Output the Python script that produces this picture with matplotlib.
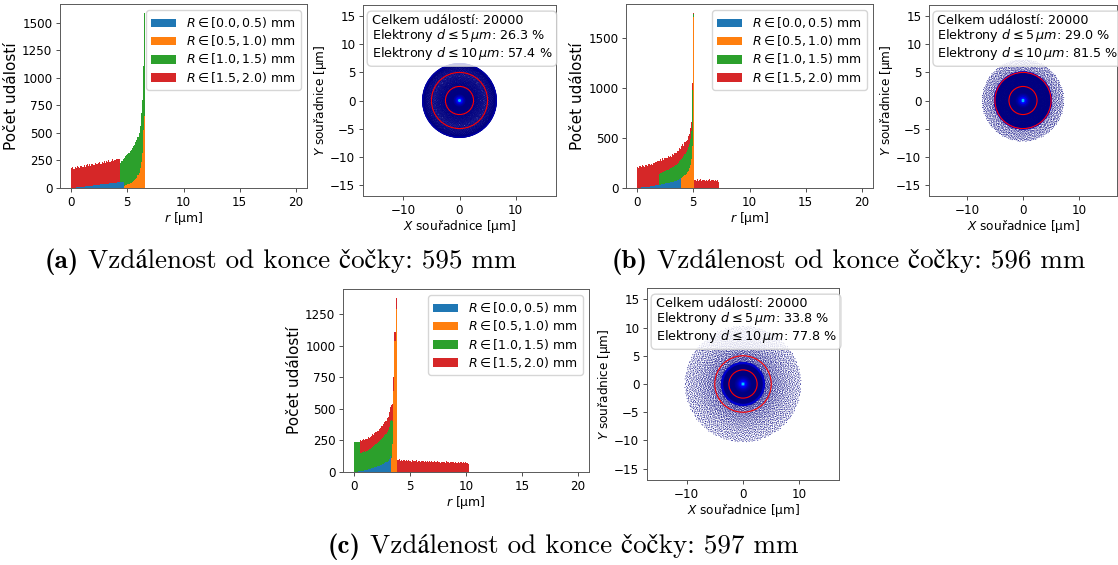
import numpy as np
import matplotlib
matplotlib.use("Agg")
import matplotlib.pyplot as plt
from matplotlib.colors import Normalize

W, H = 1118, 565

# histogram binning of the radial distance r [um]
BIN_WIDTH = 0.1
edges = np.linspace(0, 20, 201)
centers = 0.5 * (edges[:-1] + edges[1:])

group_labels = [r"$R \in [0.0, 0.5)$ mm", r"$R \in [0.5, 1.0)$ mm",
                r"$R \in [1.0, 1.5)$ mm", r"$R \in [1.5, 2.0)$ mm"]
group_colors = ["tab:blue", "tab:orange", "tab:green", "tab:red"]

# counts per 0.1 um bin, given as (index of first bin, counts)
# -- 595 mm --
blue_595 = (0, [1, 2, 3, 3, 5, 6, 7, 8, 10, 11, 12, 13, 15, 16, 17, 18, 20, 20,
                22, 23, 24, 26, 27, 28, 29, 30, 32, 33, 34, 35, 37, 38, 39, 40,
                41, 42, 44, 45, 46, 47, 48, 50, 51, 52, 53, 55, 56])
orange_595 = (47, [18, 24, 29, 33, 38, 44, 49, 55, 62, 70, 80, 95, 115, 140,
                   180, 240, 320, 530, 650])
green_595 = (43, [175, 188, 192, 206, 250, 262, 268, 280, 284, 290, 300, 306,
                  318, 322, 336, 340, 352, 360, 385, 440, 480, 580, 940])
red_595 = (0, [178, 186, 172, 190, 181, 195, 184, 176, 192, 188, 183, 198, 179,
               190, 201, 186, 194, 182, 199, 190, 185, 203, 192, 187, 198, 206,
               189, 200, 195, 210, 193, 204, 198, 212, 196, 207, 215, 200, 211,
               205, 218, 209, 214])

# -- 596 mm --
blue_596 = (0, [1, 2, 3, 5, 6, 7, 8, 9, 11, 12, 13, 15, 17, 19, 21, 23, 25, 27,
                30, 32, 34, 36, 38, 40, 42, 45, 47, 50, 52, 55, 58, 61, 64, 68,
                72, 77, 83, 90, 98])
orange_596 = (39, [100, 108, 118, 128, 140, 155, 172, 195, 228, 285, 420, 1700])
green_596 = (19, [112, 120, 115, 124, 121, 128, 126, 133, 130, 136, 140, 137,
                  145, 149, 152, 158, 163, 168, 175, 182, 188, 195, 201, 208,
                  216, 225, 236, 248, 262, 285, 560, 32])
red_596 = (0, [208, 196, 215, 204, 221, 210, 199, 224, 215, 208, 229, 218, 226,
               212, 233, 224, 238, 228, 244,
               128, 140, 122, 135, 118, 131, 126, 115, 137, 121, 129, 112, 134,
               119, 125, 117, 130, 122, 136, 110, 128, 131, 104, 118, 109, 100,
               112, 96, 105, 90, 67, 15,
               82, 74, 88, 70, 79, 85, 68, 77, 83, 72, 80, 66, 78, 86, 71, 75,
               81, 69, 77, 73, 80, 64])

# -- 597 mm --
blue_597 = (0, [1, 2, 3, 4, 4, 5, 7, 9, 11, 13, 15, 17, 20, 23, 25, 28, 31, 34,
                38, 41, 44, 47, 51, 55, 58, 62, 66, 71, 76, 82, 90, 105, 130])
orange_597 = (33, [110, 220, 640, 1040, 1290])
green_597 = (0, [240, 234, 238, 230, 236,
                 144, 140, 147, 145, 150, 147, 152, 155, 160, 158, 165, 170,
                 168, 176, 184, 182, 190, 196, 200, 205, 210, 214, 220, 228,
                 236, 245, 255, 270, 300, 180])
red_597 = (5, [108, 100, 95, 102, 88, 97, 92, 99, 86, 94, 90, 98, 88, 95,
               92, 100, 91, 97, 94, 103, 96, 99, 105, 98, 110, 104, 115, 116,
               120, 140, 110, 70, 90,
               98, 92, 101, 88, 95, 90, 97, 84, 93, 89, 96, 86, 91, 83, 94, 88,
               85, 92, 80, 89, 86, 82, 90, 84, 79, 88, 83, 86, 78, 85, 81, 87,
               77, 84, 80, 76, 86, 79, 82, 75, 83, 78, 80, 74, 85, 77, 79, 73,
               82, 76, 78, 72, 80, 75, 71, 79, 74, 77, 70, 76, 73, 78, 69, 74,
               60])

# y ticks of the three histograms
yticks_595 = [0, 250, 500, 750, 1000, 1250, 1500]
yticks_596 = [0, 500, 1000, 1500]
yticks_597 = [0, 250, 500, 750, 1000, 1250]

# summary numbers written in the info box: events, % within d<=5um, % within d<=10um
summary_595 = (20000, 26.3, 57.4)
summary_596 = (20000, 29.0, 81.5)
summary_597 = (20000, 33.8, 77.8)

tags = ["a", "b", "c"]
distances_mm = [595, 596, 597]


def binned(spec):
    start, vals = spec
    out = np.zeros(len(centers))
    out[start:start + len(vals)] = vals
    return out


def px_axes(fig, left, top, right, bottom):
    return fig.add_axes([left / W, 1 - bottom / H, (right - left) / W, (bottom - top) / H])


def radical_inverse(k, base):
    k = k.copy()
    out = np.zeros(len(k))
    f = 1.0
    while np.any(k > 0):
        f /= base
        out += f * (k % base)
        k //= base
    return out


def spot_points(total):
    """Spread the binned counts evenly over their annuli (Halton 2/3 layout)."""
    xs, ys, cs = [], [], []
    offset = 0
    for i, n in enumerate(total.astype(int)):
        if n == 0:
            continue
        k = np.arange(offset + 1, offset + n + 1)
        offset += n
        r0, r1 = edges[i], edges[i + 1]
        u = radical_inverse(k, 3)
        r = np.sqrt(r0 ** 2 + u * (r1 ** 2 - r0 ** 2))
        phi = 2 * np.pi * radical_inverse(k, 2)
        dens = n / (np.pi * (r1 ** 2 - r0 ** 2))
        xs.append(r * np.cos(phi))
        ys.append(r * np.sin(phi))
        cs.append(np.full(n, np.log10(dens)))
    x, y, c = np.concatenate(xs), np.concatenate(ys), np.concatenate(cs)
    order = np.argsort(c, kind="stable")
    return x[order], y[order], c[order]


def style_frame(ax, fs):
    ax.tick_params(labelsize=fs, length=3, width=0.7, pad=2.5, color="0.3")
    for s in ax.spines.values():
        s.set_linewidth(0.7)
        s.set_edgecolor("0.35")


fig = plt.figure(figsize=(W / 100, H / 100), dpi=100)

panels = [
    dict(groups=[blue_595, orange_595, green_595, red_595], summary=summary_595,
         yticks=yticks_595,
         hist_box=(60, 4, 307, 188), spot_box=(363, 5, 556, 196), cap=(45, 268)),
    dict(groups=[blue_596, orange_596, green_596, red_596], summary=summary_596,
         yticks=yticks_596,
         hist_box=(626, 4, 873, 188), spot_box=(929, 5, 1117, 196), cap=(612, 268)),
    dict(groups=[blue_597, orange_597, green_597, red_597], summary=summary_597,
         yticks=yticks_597,
         hist_box=(343, 289, 589, 472), spot_box=(647, 288, 839, 480), cap=(328, 553)),
]

HIST_TICK_FS = 8.6
HIST_YLABEL_FS = 11
HIST_XLABEL_FS = 9
LEGEND_FS = 9
SPOT_TICK_FS = 8.6
SPOT_LABEL_FS = 8.7
INFO_FS = 9.2
CAP_FS = 19.5
spot_norm = Normalize(vmin=2.45, vmax=6.8)

renderer = fig.canvas.get_renderer()

for tag, dist, p in zip(tags, distances_mm, panels):
    counts = [binned(g) for g in p["groups"]]

    # stacked histogram of r
    ax = px_axes(fig, *p["hist_box"])
    ax.hist([centers] * 4, bins=edges, weights=counts, stacked=True,
            color=group_colors, label=group_labels)
    ax.set_xlim(-1, 21)
    ax.set_xticks([0, 5, 10, 15, 20])
    ax.set_yticks(p["yticks"])
    ax.set_xlabel(r"$r$ [µm]", fontsize=HIST_XLABEL_FS, labelpad=1)
    ax.set_ylabel("Počet událostí", fontsize=HIST_YLABEL_FS, labelpad=2)
    style_frame(ax, HIST_TICK_FS)
    ax.legend(loc="upper right", fontsize=LEGEND_FS, labelspacing=0.25)

    # hit positions in the detector plane
    l, t, r, b = p["spot_box"]
    ax2 = px_axes(fig, l, t, r, b)
    x, y, c = spot_points(np.sum(counts, axis=0))
    ax2.scatter(x, y, c=c, cmap="jet", norm=spot_norm, s=0.45, linewidths=0)
    for rad in (2.5, 5.0):
        ax2.add_patch(plt.Circle((0, 0), rad, fill=False, color="red", lw=0.8))
    half = 17 * (r - l) / (b - t)
    ax2.set_xlim(-half, half)
    ax2.set_ylim(-17, 17)
    ax2.set_xticks([-10, 0, 10])
    ax2.set_yticks([-15, -10, -5, 0, 5, 10, 15])
    style_frame(ax2, SPOT_TICK_FS)
    ax2.set_xlabel(r"$X$ souřadnice [µm]", fontsize=SPOT_LABEL_FS, labelpad=1)
    ax2.set_ylabel(r"$Y$ souřadnice [µm]", fontsize=SPOT_LABEL_FS, labelpad=1)

    n_total, p5, p10 = p["summary"]
    info = (f"Celkem událostí: {n_total}\n"
            rf"Elektrony $d \leq 5\,\mu m$: {p5:.1f} %" "\n"
            rf"Elektrony $d \leq 10\,\mu m$: {p10:.1f} %")
    ax2.text(0.045, 0.955, info, transform=ax2.transAxes, va="top", ha="left",
             fontsize=INFO_FS, linespacing=1.05,
             bbox=dict(boxstyle="round,pad=0.35", fc="white", ec="0.8", alpha=0.8))

    # sub-figure caption
    cx, cy = p["cap"]
    lab = fig.text(cx / W, 1 - cy / H, f"({tag})", family="cmb10",
                   fontsize=CAP_FS, va="baseline", ha="left")
    bb = lab.get_window_extent(renderer)
    fig.text(bb.x1 / W + 9 / W, 1 - cy / H,
             f"Vzdálenost od konce čočky: {dist} mm",
             family=["cmr10", "STIXGeneral"], fontsize=CAP_FS,
             va="baseline", ha="left")

fig.savefig("out.png", dpi=100)
